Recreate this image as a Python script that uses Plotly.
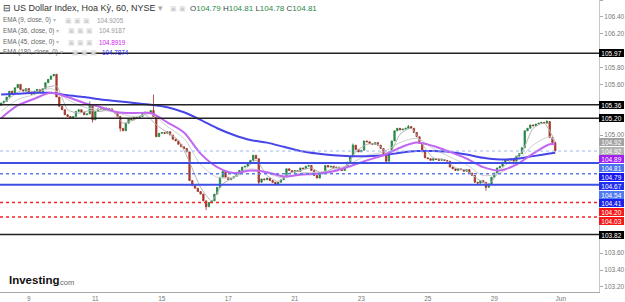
import plotly.graph_objects as go

# ---------------- data (2-hour bars) ----------------
close = [
    105.38, 105.40, 105.45, 105.52, 105.50, 105.56, 105.60, 105.54, 105.52, 105.55,
    105.50, 105.48, 105.52, 105.54, 105.51, 105.55, 105.62, 105.66, 105.70, 105.72,
    105.45, 105.34, 105.30, 105.24, 105.22, 105.20, 105.22, 105.28, 105.30, 105.27,
    105.24, 105.25, 105.36, 105.18, 105.28, 105.31, 105.30, 105.32, 105.30, 105.31,
    105.28, 105.26, 105.22, 105.08, 105.05, 105.14, 105.19, 105.18, 105.21, 105.20,
    105.22, 105.26, 105.27, 105.26, 105.29, 105.22, 104.98, 105.02, 105.03, 105.02,
    105.04, 105.00, 104.95, 104.93, 104.89, 104.86, 104.84, 104.80, 104.46, 104.40,
    104.37, 104.33, 104.30, 104.22, 104.15, 104.20, 104.22, 104.30, 104.38, 104.50,
    104.57, 104.50, 104.47, 104.49, 104.51, 104.53, 104.58, 104.62, 104.63, 104.66,
    104.70, 104.76, 104.72, 104.44, 104.48, 104.47, 104.49, 104.46, 104.44, 104.42,
    104.44, 104.47, 104.50, 104.60, 104.58, 104.56, 104.58, 104.57, 104.61, 104.60,
    104.63, 104.64, 104.58, 104.52, 104.49, 104.54, 104.56, 104.64, 104.62, 104.63,
    104.61, 104.62, 104.59, 104.58, 104.62, 104.68, 104.75, 104.88, 104.83, 104.80,
    104.82, 104.93, 104.92, 104.90, 104.89, 104.91, 104.88, 104.84, 104.78, 104.69,
    104.80, 104.93, 105.05, 105.08, 105.06, 105.07, 105.08, 105.10, 105.08, 105.03,
    104.98, 104.90, 104.80, 104.73, 104.72, 104.70, 104.72, 104.71, 104.70, 104.71,
    104.70, 104.69, 104.62, 104.60, 104.58, 104.60, 104.59, 104.57, 104.59, 104.55,
    104.52, 104.44, 104.43, 104.46, 104.44, 104.38, 104.42, 104.50, 104.55, 104.61,
    104.63, 104.68, 104.71, 104.70, 104.72, 104.69, 104.75, 104.78, 104.85, 105.05,
    105.08, 105.12, 105.11, 105.13, 105.14, 105.15, 105.14, 105.16, 104.97, 104.91,
    104.81,
]
first_open = 105.35
extra_high = {32: 105.40, 55: 105.48, 127: 104.90, 147: 105.12, 197: 105.18}
extra_low = {33: 105.15, 43: 105.04, 74: 104.11, 93: 104.42, 139: 104.66, 175: 104.34}

ema_step_x = list(range(0, 199, 6)) + [200]
ema180 = [105.48, 105.49, 105.50, 105.50, 105.47, 105.45, 105.42, 105.40, 105.38, 105.36,
          105.33, 105.27, 105.18, 105.08, 105.00, 104.94, 104.91, 104.86, 104.81, 104.78,
          104.76, 104.75, 104.75, 104.76, 104.79, 104.81, 104.81, 104.80, 104.77, 104.73,
          104.71, 104.72, 104.75, 104.78, 104.79]
ema45 = [105.20, 105.35, 105.43, 105.50, 105.45, 105.38, 105.33, 105.27, 105.26, 105.26,
         105.15, 105.03, 104.78, 104.62, 104.55, 104.58, 104.56, 104.51, 104.53, 104.54,
         104.57, 104.63, 104.70, 104.76, 104.85, 104.91, 104.87, 104.80, 104.72, 104.62,
         104.58, 104.65, 104.78, 104.89, 104.89]
ema36 = [105.28, 105.42, 105.48, 105.55, 105.42, 105.33, 105.30, 105.26, 105.22, 105.25,
         105.10, 104.96, 104.65, 104.50, 104.50, 104.60, 104.55, 104.49, 104.55, 104.56,
         104.59, 104.66, 104.76, 104.80, 104.91, 104.96, 104.84, 104.74, 104.65, 104.52,
         104.55, 104.68, 104.88, 104.98, 104.92]
ema9_x = list(range(0, 201, 4))
ema9 = [105.35, 105.46, 105.54, 105.51, 105.56, 105.58, 105.30, 105.26, 105.29, 105.28,
        105.30, 105.14, 105.18, 105.24, 105.12, 105.03, 104.94, 104.68, 104.38, 104.22,
        104.42, 104.50, 104.59, 104.70, 104.52, 104.45, 104.55, 104.58, 104.61, 104.54,
        104.61, 104.61, 104.80, 104.89, 104.89, 104.77, 105.01, 105.08, 104.89, 104.73,
        104.71, 104.61, 104.58, 104.48, 104.42, 104.58, 104.70, 104.80, 105.08, 105.14,
        104.92]

levels = [105.97, 105.36, 105.20, 104.81, 104.67, 104.54, 104.41, 104.20, 104.03, 103.82]
level_styles = [
    ("#222222", 1.5, "solid"), ("#222222", 1.5, "solid"), ("#222222", 1.5, "solid"),
    ("#9db6f2", 1, "dot"), ("#3f4fe6", 2, "solid"), ("#5a7cf0", 1.5, "dot"),
    ("#3f4fe6", 2, "solid"), ("#f02424", 1.5, "dot"), ("#f02424", 1.5, "dot"),
    ("#222222", 1.5, "solid"),
]

badge_values = [105.97, 105.36, 105.20, 104.92, 104.92, 104.89, 104.81, 104.79,
                104.67, 104.54, 104.41, 104.20, 104.03, 103.82]
badge_colors = ["#000000", "#000000", "#000000", "#a3a3a3", "#b3b3b3", "#a020f0",
                "#4a72ee", "#1818f2", "#2030ee", "#4f7cf2", "#1a22ec", "#f51a1a",
                "#f51a1a", "#000000"]

# y tick labels that remain visible (others are covered by the badges)
y_ticks = [103.20, 103.40, 103.60, 105.00, 105.60, 105.80, 106.20, 106.40, 106.60]

tick_bars = [10, 34, 58, 82, 106, 130, 154, 178, 202]
tick_text = ["9", "11", "15", "17", "21", "23", "25", "29", "Jun"]

y_min, y_max = 103.14, 106.60
W, H = 625, 302
ML, MR, MT, MB = 0, 26, 0, 10
PH = H - MT - MB

# ---------------- figure ----------------
opens = [first_open] + close[:-1]
highs = [max(o, c) for o, c in zip(opens, close)]
lows = [min(o, c) for o, c in zip(opens, close)]
for k, v in extra_high.items():
    highs[k] = max(highs[k], v)
for k, v in extra_low.items():
    lows[k] = min(lows[k], v)
xb = list(range(len(close)))

fig = go.Figure()
fig.add_trace(go.Scatter(x=ema_step_x, y=ema36, mode="lines",
                         line=dict(color="#cfcfcf", width=1, shape="spline", smoothing=0.8),
                         hoverinfo="skip"))
fig.add_trace(go.Scatter(x=ema9_x, y=ema9, mode="lines",
                         line=dict(color="#b5b5b5", width=1, shape="spline", smoothing=0.6),
                         hoverinfo="skip"))
fig.add_trace(go.Scatter(x=ema_step_x, y=ema180, mode="lines",
                         line=dict(color="#4545e8", width=2, shape="spline", smoothing=0.8),
                         hoverinfo="skip"))
fig.add_trace(go.Scatter(x=ema_step_x, y=ema45, mode="lines",
                         line=dict(color="#c265f2", width=2, shape="spline", smoothing=0.8),
                         hoverinfo="skip"))
fig.add_trace(go.Candlestick(
    x=xb, open=opens, high=highs, low=lows, close=close,
    increasing=dict(line=dict(color="#22803f", width=0.8), fillcolor="#2a9150"),
    decreasing=dict(line=dict(color="#9c2e22", width=0.8), fillcolor="#b8402e"),
    whiskerwidth=0, hoverinfo="skip"))

for v, (col, w, dash) in zip(levels, level_styles):
    fig.add_shape(type="line", xref="paper", x0=0, x1=1, yref="y", y0=v, y1=v,
                  line=dict(color=col, width=w, dash=dash), layer="above")

# badges on the right axis, stacked so they do not overlap
def to_px(v):
    return (y_max - v) / (y_max - y_min) * PH

order = sorted(range(len(badge_values)), key=lambda i: to_px(badge_values[i]))
prev = -100
for i in order:
    py = max(to_px(badge_values[i]), prev + 8.8)
    prev = py
    fig.add_annotation(xref="paper", yref="paper", x=1, y=1 - py / PH,
                       xanchor="left", yanchor="middle", xshift=0,
                       text="%.2f" % badge_values[i], showarrow=False,
                       font=dict(family="Liberation Sans", size=6.5, color="white"),
                       bgcolor=badge_colors[i], borderwidth=0, borderpad=0,
                       width=25, height=8, align="center")

# header texts
def txt(x, y, s, size, color, bold=False, family="Liberation Sans"):
    fig.add_annotation(xref="paper", yref="paper", x=x / (W - ML - MR),
                       y=1 - y / PH, xanchor="left", yanchor="middle",
                       text=("<b>%s</b>" % s) if bold else s, showarrow=False,
                       font=dict(family=family, size=size, color=color))

txt(1, 8, "⊟ US Dollar Index, Hoa Kỳ, 60, NYSE <span style='color:#aaa'>▾</span>", 9, "#333333")
txt(168, 8, "<span style='color:#d0d0d0'>▣ ▣</span>", 7, "#cccccc")
txt(188, 8, "O<span style='color:#2a8a4a'>104.79</span> H<span style='color:#2a8a4a'>104.81</span> "
            "L<span style='color:#2a8a4a'>104.78</span> C<span style='color:#2a8a4a'>104.81</span>",
    8, "#444444")
ema_rows = [("EMA (9, close, 0)", "104.9205", "#999999", 20, 63, 95),
            ("EMA (36, close, 0)", "104.9187", "#999999", 31, 66, 97),
            ("EMA (45, close, 0)", "104.8919", "#cc22ee", 42, 66, 97),
            ("EMA (180, close, 0)", "104.7874", "#2222ee", 52, 70, 100)]
for lab, val, vcol, yy, xi, xv in ema_rows:
    txt(1, yy, lab + " <span style='color:#bbb'>▾</span>", 6.3, "#666666")
    txt(xi, yy, "▣ ▣ ▣", 6.5, "#d2d2d2")
    txt(xv, yy, val, 6.3, vcol)

txt(7, 280, "Investing", 11.5, "#111111", bold=True)
txt(56, 282, ".com", 7.5, "#666666")

fig.update_layout(
    width=W, height=H, margin=dict(l=ML, r=MR, t=MT, b=MB),
    paper_bgcolor="white", plot_bgcolor="white", showlegend=False,
    template="none",
    xaxis=dict(range=[-0.4, 215.8], tickvals=tick_bars, ticktext=tick_text,
               showgrid=False, zeroline=False, showline=True, linecolor="#a8a8a8",
               linewidth=1, ticks="", tickfont=dict(family="Liberation Sans", size=6.5, color="#777"),
               rangeslider=dict(visible=False), automargin=False, fixedrange=True),
    yaxis=dict(range=[y_min, y_max], side="right", tickvals=y_ticks,
               tickformat=".2f", showgrid=False, zeroline=False, showline=True,
               linecolor="#c8c8c8", linewidth=1, ticks="outside", ticklen=3,
               tickcolor="#aaaaaa", tickfont=dict(family="Liberation Sans", size=6.5, color="#777"),
               automargin=False, fixedrange=True),
)

fig.write_html("out.html")
